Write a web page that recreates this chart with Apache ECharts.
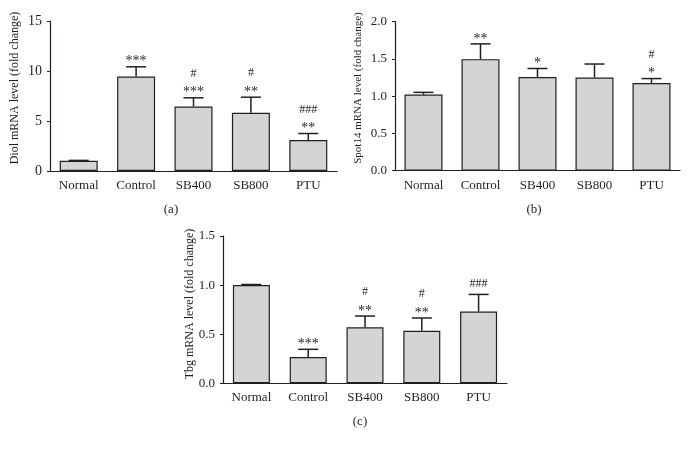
<!DOCTYPE html>
<html><head><meta charset="utf-8">
<script src="https://cdn.jsdelivr.net/npm/echarts@6.0.0/dist/echarts.min.js"></script>
<style>html,body{margin:0;padding:0;background:#fff}#c{width:688px;height:451px}</style>
</head><body><div id="c"></div>
<script>
const categories = ['Normal', 'Control', 'SB400', 'SB800', 'PTU'];

const diolMean = [1.03, 9.45, 6.45, 5.82, 3.1];
const diolErr = [1.06, 10.42, 7.32, 7.38, 3.75];
const diolStars = ['', '***', '***', '**', '**'];
const diolHash = ['', '', '#', '#', '###'];
const diolTicks = [0, 15, 5];

const spotMean = [1.02, 1.495, 1.255, 1.25, 1.175];
const spotErr = [1.05, 1.70, 1.37, 1.43, 1.235];
const spotStars = ['', '**', '*', '', '*'];
const spotHash = ['', '', '', '', '#'];
const spotTicks = [0, 2, 0.5];

const tbgMean = [1.0, 0.268, 0.57, 0.535, 0.73];
const tbgErr = [1.006, 0.346, 0.685, 0.665, 0.905];
const tbgStars = ['', '***', '**', '**', ''];
const tbgHash = ['', '', '#', '#', '###'];
const tbgTicks = [0, 1.5, 0.5];

const titles = ['Diol mRNA level (fold change)', 'Spot14 mRNA level (fold change)', 'Tbg mRNA level (fold change)'];
const panelLabels = ['(a)', '(b)', '(c)'];

const INK = '#231f20';
const FONT = '"Liberation Serif", "Times New Roman", serif';

const panels = [
  {mean: diolMean, err: diolErr, stars: diolStars, hash: diolHash, ticks: diolTicks, dec: 0,
   grid: {left: 50, top: 21, width: 287, height: 150}, barW: 38, tickFont: 14,
   title: {x: 15, y: 88, size: 12}, label: {x: 171, y: 210}},
  {mean: spotMean, err: spotErr, stars: spotStars, hash: spotHash, ticks: spotTicks, dec: 1,
   grid: {left: 395, top: 21.5, width: 285, height: 149.2}, barW: 38, tickFont: 13,
   title: {x: 358, y: 88, size: 11}, label: {x: 534, y: 210}},
  {mean: tbgMean, err: tbgErr, stars: tbgStars, hash: tbgHash, ticks: tbgTicks, dec: 1,
   grid: {left: 223, top: 236, width: 284, height: 147.3}, barW: 37, tickFont: 13,
   title: {x: 190, y: 304, size: 12}, label: {x: 360, y: 422}}
];

function errRender(params, api) {
  const i = api.value(0);
  const m = api.coord([i, api.value(1)]);
  const t = api.coord([i, api.value(2)]);
  const st = {stroke: INK, lineWidth: 1.5};
  return {type: 'group', children: [
    {type: 'line', shape: {x1: m[0], y1: m[1], x2: t[0], y2: t[1]}, style: st},
    {type: 'line', shape: {x1: t[0] - 10, y1: t[1], x2: t[0] + 10, y2: t[1]}, style: st}
  ]};
}

function annRender(stars, hash) {
  return function (params, api) {
    const i = params.dataIndex;
    const p = api.coord([api.value(0), api.value(1)]);
    const ch = [];
    const base = {fill: INK, align: 'center', verticalAlign: 'bottom', fontFamily: FONT};
    if (stars[i]) {
      ch.push({type: 'text', x: p[0], y: p[1] + 2, style: Object.assign({text: stars[i], fontSize: 14}, base)});
    }
    if (hash[i]) {
      const y = stars[i] ? p[1] - 18 : p[1] - 5;
      ch.push({type: 'text', x: p[0], y: y, style: Object.assign({text: hash[i], fontSize: 12}, base)});
    }
    return {type: 'group', children: ch};
  };
}

const grid = [], xAxis = [], yAxis = [], series = [], graphic = [];
panels.forEach((pn, k) => {
  grid.push(Object.assign({containLabel: false}, pn.grid));
  xAxis.push({
    type: 'category', gridIndex: k, data: categories,
    axisLine: {lineStyle: {color: INK, width: 1.2}},
    axisTick: {alignWithLabel: true, length: 3, lineStyle: {color: INK}},
    axisLabel: {color: INK, fontFamily: FONT, fontSize: 13, margin: 8},
    splitLine: {show: false}
  });
  yAxis.push({
    type: 'value', gridIndex: k, min: pn.ticks[0], max: pn.ticks[1], interval: pn.ticks[2],
    axisLine: {show: true, lineStyle: {color: INK, width: 1.2}},
    axisTick: {show: true, length: 3, lineStyle: {color: INK}},
    axisLabel: {color: INK, fontFamily: FONT, fontSize: pn.tickFont, margin: 8,
      formatter: v => v.toFixed(pn.dec)},
    splitLine: {show: false}
  });
  series.push({
    type: 'bar', xAxisIndex: k, yAxisIndex: k, data: pn.mean, barWidth: pn.barW,
    itemStyle: {color: '#d4d4d4', borderColor: INK, borderWidth: 1.2},
    silent: true, animation: false
  });
  series.push({
    type: 'custom', xAxisIndex: k, yAxisIndex: k, renderItem: errRender,
    data: pn.mean.map((m, i) => [i, m, pn.err[i]]), encode: {x: 0, y: [1, 2]},
    z: 5, silent: true, animation: false
  });
  series.push({
    type: 'custom', xAxisIndex: k, yAxisIndex: k, renderItem: annRender(pn.stars, pn.hash),
    data: pn.err.map((e, i) => [i, e]), encode: {x: 0, y: 1},
    z: 6, silent: true, animation: false
  });
  graphic.push({
    type: 'text', x: pn.title.x, y: pn.title.y, rotation: Math.PI / 2,
    style: {text: titles[k], fill: INK, font: pn.title.size + 'px ' + FONT, align: 'center', verticalAlign: 'middle'}
  });
  graphic.push({
    type: 'text', x: pn.label.x, y: pn.label.y,
    style: {text: panelLabels[k], fill: INK, font: '13px ' + FONT, align: 'center', verticalAlign: 'middle'}
  });
});

const chart = echarts.init(document.getElementById('c'), null, {renderer: 'canvas'});
chart.setOption({animation: false, backgroundColor: '#fff', grid, xAxis, yAxis, series, graphic});
</script>
</body></html>
